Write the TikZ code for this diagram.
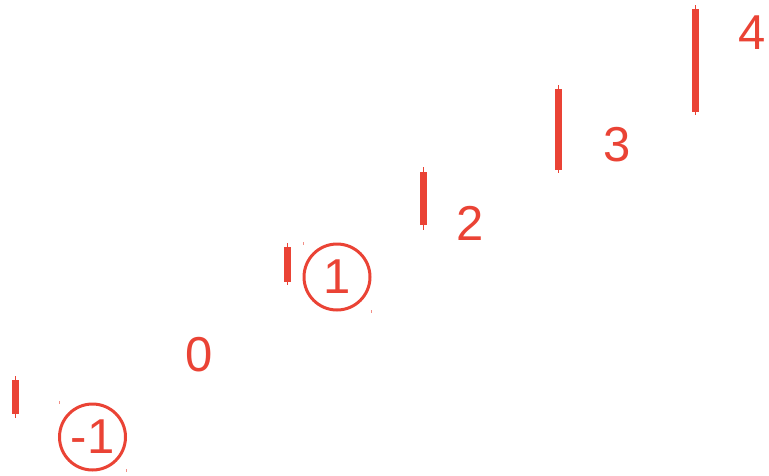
\documentclass[tikz,border=0pt]{standalone}
\usepackage{fontspec}
\setmainfont{Liberation Sans}
\definecolor{cred}{RGB}{234,67,53}
\begin{document}
\begin{tikzpicture}[x=1pt,y=-1pt,
  lbl/.style={text=cred,font=\fontsize{49}{49}\selectfont,inner sep=0pt},
  ring/.style={draw=cred,line width=3pt,circle,minimum size=66pt,inner sep=0pt,text=cred,font=\fontsize{49}{49}\selectfont},
  wick/.style={draw=cred,line width=1pt},
  body/.style={fill=cred},
  tick/.style={draw=cred!60,line width=1pt}]
\useasboundingbox (0,0) rectangle (769,475);
% candles
\draw[wick] (15.5,376) -- (15.5,418);
\fill[body] (12,380) rectangle (19,414);
\draw[wick] (287.5,243) -- (287.5,285);
\fill[body] (284,247) rectangle (291,282);
\draw[wick] (423,167) -- (423,230);
\fill[body] (419.5,172) rectangle (426.5,225);
\draw[wick] (558.5,85) -- (558.5,173);
\fill[body] (555,89) rectangle (562,170);
\draw[wick] (695.5,5) -- (695.5,115);
\fill[body] (692,9) rectangle (699,112);
% small ticks
\draw[tick] (59,401) -- (59,404);
\draw[tick] (126,469) -- (126,472);
\draw[tick] (303,242) -- (303,245);
\draw[tick] (371,310) -- (371,313);
% labels
\node[ring] (m1) at (92.5,437) {-1};
\node[ring] (p1) at (337,277) {1};
\node[lbl] (z) at (199.5,355) {0};
\node[lbl] (t2) at (470,223.5) {2};
\node[lbl] (t3) at (617.5,144.5) {3};
\node[lbl] (t4) at (752.5,32.5) {4};
\end{tikzpicture}
\end{document}
